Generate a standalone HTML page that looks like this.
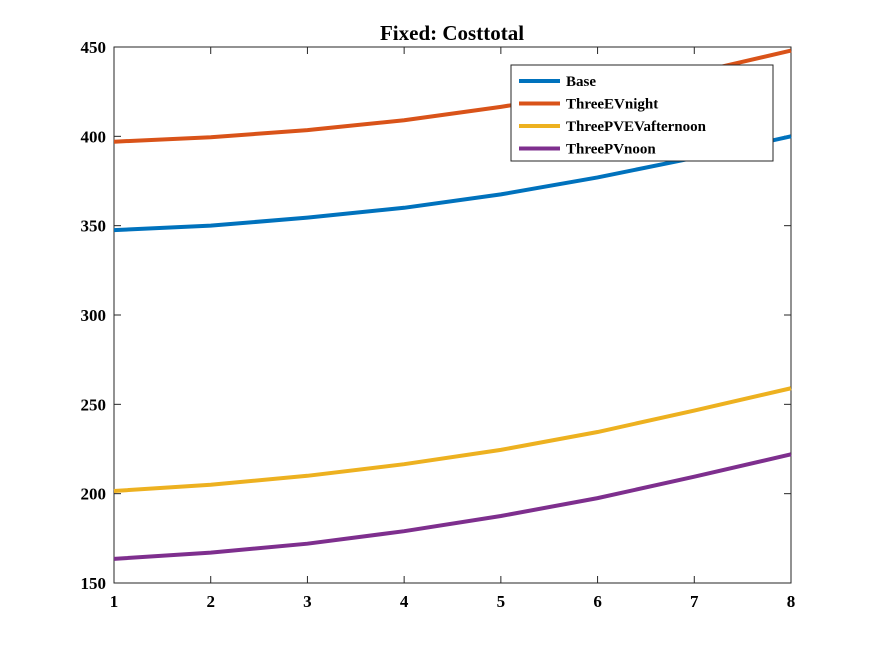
<!DOCTYPE html>
<html><head><meta charset="utf-8"><style>
body{margin:0;background:#fff}
svg text{font-family:"Liberation Serif",serif;font-weight:bold;fill:#000}
</style></head><body>
<svg id="chart" width="875" height="656" xmlns="http://www.w3.org/2000/svg">
<rect width="875" height="656" fill="#fff"/>
<text x="452" y="40" text-anchor="middle" font-size="21">Fixed: Costtotal</text>
<g id="plot"></g>
</svg>
<script>
const categories=[1,2,3,4,5,6,7,8];
const seriesNames=["Base","ThreeEVnight","ThreePVEVafternoon","ThreePVnoon"];
const base=[347.5,350,354.5,360,367.5,377,388,400];
const evNight=[397,399.5,403.5,409,416.5,425,435.5,448];
const pvevAfternoon=[201.5,205,210,216.5,224.5,234.5,246.5,259];
const pvNoon=[163.5,167,172,179,187.5,197.5,209.5,222];
const yTicks=[150,200,250,300,350,400,450];
const xTicks=[1,2,3,4,5,6,7,8];
const colors=["#0072BD","#D95319","#EDB120","#7E2F8E"];
const allSeries=[base,evNight,pvevAfternoon,pvNoon];
const L=114,R=791,T=47,B=583;
const sx=v=>L+(v-1)/(8-1)*(R-L);
const sy=v=>B-(v-150)/(450-150)*(B-T);
const g=document.getElementById('plot');
const NS="http://www.w3.org/2000/svg";
function mk(t,a){const e=document.createElementNS(NS,t);for(const k in a)e.setAttribute(k,a[k]);g.appendChild(e);return e;}
const frame=mk('rect',{x:L,y:T,width:R-L,height:B-T,fill:'none',stroke:'#262626','stroke-width':1});


yTicks.forEach(v=>{
  const y=sy(v);
  mk('line',{x1:L,y1:y,x2:L+7,y2:y,stroke:'#262626'});
  mk('line',{x1:R,y1:y,x2:R-7,y2:y,stroke:'#262626'});
  const t=mk('text',{x:L-8,y:y+6,'text-anchor':'end','font-size':17});
  t.textContent=v;
  
  
});
xTicks.forEach(v=>{
  const x=sx(v);
  mk('line',{x1:x,y1:B,x2:x,y2:B-7,stroke:'#262626'});
  mk('line',{x1:x,y1:T,x2:x,y2:T+7,stroke:'#262626'});
  const t=mk('text',{x:x,y:B+24,'text-anchor':'middle','font-size':17});
  t.textContent=v;
  
  
});
allSeries.forEach((s,i)=>{
  const d=s.map((v,j)=>(j?'L':'M')+sx(categories[j])+','+sy(v)).join(' ');
  const p=mk('path',{d:d,fill:'none',stroke:colors[i],'stroke-width':4});
  
  
});
const lg=mk('rect',{x:511,y:65,width:262,height:96,fill:'#fff',stroke:'#262626'});


seriesNames.forEach((n,i)=>{
  const y=81+i*22.5;
  mk('line',{x1:519,y1:y,x2:560,y2:y,stroke:colors[i],'stroke-width':4});
  const t=mk('text',{x:566,y:y+5,'font-size':15});
  t.textContent=n;
  
  
});
</script>
</body></html>
